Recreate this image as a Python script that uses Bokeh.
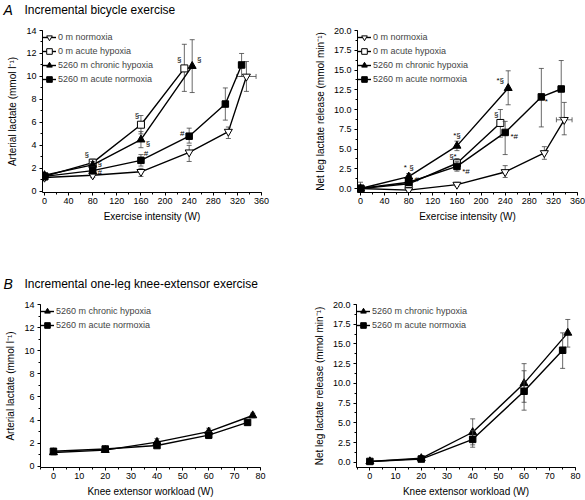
from bokeh.plotting import figure
from bokeh.models import (ColumnDataSource, Legend, LegendItem, Range1d,
                          SingleIntervalTicker, PrintfTickFormatter)
from bokeh.layouts import column, row
from bokeh.embed import file_html
from bokeh.resources import INLINE
from bokeh.core.properties import value
import math

FONT = "Liberation Sans"
EBC = "#444444"

SERIES = ["0 m normoxia", "0 m acute hypoxia", "5260 m chronic hypoxia", "5260 m acute normoxia"]
TITLE_A = ["A", "Incremental bicycle exercise"]
TITLE_B = ["B", "Incremental one-leg knee-extensor exercise"]

# ---------- Panel A left: arterial lactate (mmol l-1) vs exercise intensity (W)
a_art_norm_x = [0, 80, 160, 240, 305, 335]
a_art_norm_y = [1.2, 1.4, 1.7, 3.4, 5.2, 10.0]
a_art_norm_lo = [1.0, 1.2, 1.3, 2.6, 4.6, 8.7]
a_art_norm_hi = [1.5, 1.6, 2.0, 4.0, 5.6, 11.3]
a_art_norm_xerr = [0, 0, 0, 0, 0, 16]

a_art_ahyp_x = [0, 80, 160, 232]
a_art_ahyp_y = [1.3, 2.5, 5.8, 10.7]
a_art_ahyp_lo = [1.1, 2.2, 5.0, 8.7]
a_art_ahyp_hi = [1.5, 2.8, 6.6, 12.8]
a_art_ahyp_xerr = [0, 0, 0, 0]

a_art_chyp_x = [0, 80, 160, 245]
a_art_chyp_y = [1.4, 2.3, 4.5, 10.9]
a_art_chyp_lo = [1.2, 2.0, 3.8, 8.6]
a_art_chyp_hi = [1.6, 2.6, 5.2, 13.2]
a_art_chyp_xerr = [0, 0, 0, 0]

a_art_anorm_x = [0, 80, 160, 240, 300, 327]
a_art_anorm_y = [1.3, 1.8, 2.7, 4.8, 7.6, 11.0]
a_art_anorm_lo = [1.1, 1.5, 2.2, 4.2, 6.2, 10.0]
a_art_anorm_hi = [1.5, 2.1, 3.2, 5.5, 9.0, 12.0]
a_art_anorm_xerr = [0, 0, 0, 0, 0, 5]

# ---------- Panel A right: net leg lactate release (mmol min-1)
a_leg_norm_x = [0, 80, 160, 240, 305, 338]
a_leg_norm_y = [0.0, -0.2, 0.5, 2.1, 4.5, 8.7]
a_leg_norm_lo = [-0.5, -0.5, 0.3, 1.4, 3.7, 6.8]
a_leg_norm_hi = [0.8, 0.1, 0.8, 2.9, 5.3, 10.9]
a_leg_norm_xerr = [0, 0, 0, 0, 0, 13]

a_leg_ahyp_x = [0, 80, 160, 232]
a_leg_ahyp_y = [0.0, 0.6, 3.2, 8.3]
a_leg_ahyp_lo = [-0.3, 0.3, 2.6, 6.5]
a_leg_ahyp_hi = [0.3, 0.9, 3.8, 10.0]
a_leg_ahyp_xerr = [0, 0, 0, 0]

a_leg_chyp_x = [0, 80, 160, 245]
a_leg_chyp_y = [0.0, 1.5, 5.4, 12.7]
a_leg_chyp_lo = [-0.3, 1.1, 4.8, 10.6]
a_leg_chyp_hi = [0.3, 1.9, 6.0, 14.9]
a_leg_chyp_xerr = [0, 0, 0, 0]

a_leg_anorm_x = [0, 80, 160, 240, 300, 333]
a_leg_anorm_y = [0.0, 0.8, 2.8, 7.1, 11.6, 12.6]
a_leg_anorm_lo = [-0.3, 0.5, 2.2, 4.3, 7.8, 9.0]
a_leg_anorm_hi = [0.3, 1.1, 3.4, 8.5, 15.2, 16.2]
a_leg_anorm_xerr = [0, 0, 0, 0, 0, 5]

# ---------- Panel B left: arterial lactate vs knee extensor workload (W)
b_art_chyp_x = [0, 20, 40, 60, 77]
b_art_chyp_y = [1.2, 1.4, 2.1, 3.0, 4.4]
b_art_chyp_lo = [1.0, 1.2, 1.8, 2.7, 4.2]
b_art_chyp_hi = [1.4, 1.6, 2.4, 3.3, 4.6]
b_art_chyp_xerr = [0, 0, 0, 0, 0]

b_art_anorm_x = [0, 20, 40, 60, 75]
b_art_anorm_y = [1.3, 1.5, 1.8, 2.7, 3.8]
b_art_anorm_lo = [1.1, 1.3, 1.6, 2.4, 3.6]
b_art_anorm_hi = [1.5, 1.7, 2.0, 3.0, 4.0]
b_art_anorm_xerr = [0, 0, 0, 0, 0]

# ---------- Panel B right: net leg lactate release
b_leg_chyp_x = [0, 20, 40, 60, 77]
b_leg_chyp_y = [0.1, 0.5, 3.8, 10.0, 16.4]
b_leg_chyp_lo = [-0.1, 0.3, 2.2, 7.6, 14.6]
b_leg_chyp_hi = [0.3, 0.8, 5.5, 12.5, 18.1]
b_leg_chyp_xerr = [0, 0, 0, 0, 0]

b_leg_anorm_x = [0, 20, 40, 60, 75]
b_leg_anorm_y = [0.1, 0.4, 2.9, 9.0, 14.2]
b_leg_anorm_lo = [-0.1, 0.2, 1.9, 6.6, 11.9]
b_leg_anorm_hi = [0.3, 0.6, 4.0, 11.6, 16.4]
b_leg_anorm_xerr = [0, 0, 0, 0, 0]

# significance marks: (text, series, point index, x offset px, y offset px)
a_art_marks = [("§", 1, 1, -6, -8), ("§", 1, 2, -4, -9), ("§", 1, 3, -5, -9),
               ("§", 2, 3, 7, -7), ("§", 2, 2, 7, 4), ("§", 2, 1, 7, -1),
               ("#", 3, 2, 5, -7), ("#", 3, 3, -7, -3), ("#", 3, 1, 7, 2)]
a_leg_marks = [("*§", 2, 3, -8, -8), ("§", 1, 3, -4, -8), ("*", 3, 4, 5, 5),
               ("*§", 2, 2, 0, -10), ("§*", 1, 2, -4, -7), ("*#", 3, 2, 9, 5),
               ("*#", 3, 3, 9, 4), ("* §", 2, 1, 0, -9), ("#", 3, 1, 8, -3)]

STYLE = {
    "0 m normoxia": ("inverted_triangle", "white", 8),
    "0 m acute hypoxia": ("square", "white", 7),
    "5260 m chronic hypoxia": ("triangle", "black", 8),
    "5260 m acute normoxia": ("square", "black", 6.5),
}


def title_fig(height, letter, text, ymid):
    p = figure(width=585, height=height, x_range=Range1d(0, 585), y_range=Range1d(height, 0),
               output_backend="svg", toolbar_location=None,
               min_border_left=0, min_border_right=0, min_border_top=0, min_border_bottom=0)
    p.axis.visible = False
    p.grid.visible = False
    p.outline_line_color = None
    p.text(x=[3], y=[ymid], text=[letter], text_font=value(FONT), text_font_style="italic",
           text_font_size="14px", text_baseline="middle", text_color="black")
    p.text(x=[24], y=[ymid], text=[text], text_font=value(FONT),
           text_font_size="12px", text_baseline="middle", text_color="black")
    return p


def base_fig(width, height, xr, yr, bl, br, bt, bb, xint, yint, xlabel, ylabel, yfmt=None):
    p = figure(width=width, height=height, x_range=Range1d(*xr), y_range=Range1d(*yr),
               output_backend="svg", toolbar_location=None,
               min_border_left=bl, min_border_right=br, min_border_top=bt, min_border_bottom=bb)
    p.outline_line_color = None
    p.xgrid.visible = False
    p.ygrid.visible = False
    p.xaxis.ticker = SingleIntervalTicker(interval=xint, num_minor_ticks=2)
    p.yaxis.ticker = SingleIntervalTicker(interval=yint, num_minor_ticks=2)
    if yfmt:
        p.yaxis.formatter = PrintfTickFormatter(format=yfmt)
    p.xaxis.axis_label = xlabel
    p.yaxis.axis_label = ylabel
    for ax in (p.xaxis[0], p.yaxis[0]):
        ax.axis_line_color = "black"
        ax.major_tick_line_color = "black"
        ax.minor_tick_line_color = "black"
        ax.major_tick_out = 3
        ax.major_tick_in = 0
        ax.minor_tick_out = 2
        ax.minor_tick_in = 0
        ax.major_label_text_font = FONT
        ax.major_label_text_font_size = "9px"
        ax.major_label_text_color = "black"
        ax.axis_label_text_font = FONT
        ax.axis_label_text_font_size = "10px"
        ax.axis_label_text_font_style = "normal"
        ax.axis_label_text_color = "black"
        ax.major_label_standoff = 2
    p.xaxis[0].axis_label_standoff = 4
    p.yaxis[0].axis_label_standoff = 5
    p.yaxis[0].major_label_standoff = 3
    return p


def draw(p, name, x, y, lo, hi, xerr):
    marker, fill, size = STYLE[name]
    ln = p.line(x, y, line_color="black", line_width=1.4)
    p.segment(x0=x, y0=lo, x1=x, y1=hi, line_color=EBC, line_width=0.8)
    p.scatter(x=x + x, y=lo + hi, marker="dash", size=5, line_color=EBC, line_width=0.8)
    hx = [(xi, yi, e) for xi, yi, e in zip(x, y, xerr) if e > 0]
    if hx:
        hyy = [h[1] for h in hx]
        hl = [h[0] - h[2] for h in hx]
        hh = [h[0] + h[2] for h in hx]
        p.segment(x0=hl, y0=hyy, x1=hh, y1=hyy, line_color=EBC, line_width=0.8)
        p.scatter(x=hl + hh, y=hyy + hyy, marker="dash", angle=math.pi / 2, size=5,
                  line_color=EBC, line_width=0.8)
    mk = p.scatter(x, y, marker=marker, size=size, fill_color=fill, line_color="black", line_width=1)
    return ln, mk


def add_legend(p, names, handles):
    items = [LegendItem(label=n, renderers=list(h)) for n, h in zip(names, handles)]
    lg = Legend(items=items, location="top_left", label_text_font=FONT, label_text_font_size="9px",
                glyph_width=14, glyph_height=14, label_height=9, spacing=-4, padding=0, margin=0,
                label_standoff=2, border_line_color=None, background_fill_alpha=0)
    p.add_layout(lg)


def add_marks(p, marks, xs, ys):
    src = ColumnDataSource(dict(
        x=[xs[m[1]][m[2]] for m in marks], y=[ys[m[1]][m[2]] for m in marks],
        t=[m[0] for m in marks], dx=[m[3] for m in marks], dy=[m[4] for m in marks]))
    p.text(x="x", y="y", text="t", x_offset="dx", y_offset="dy", source=src,
           text_font=value(FONT), text_font_size="8px", text_align="center",
           text_baseline="middle", text_color="black")


ART_LABEL = "Arterial lactate (mmol l\u207b\u00b9)"
LEG_LABEL = "Net leg lactate release (mmol min\u207b\u00b9)"

ta = title_fig(20, TITLE_A[0], TITLE_A[1], 9)

# ---- top left
tl = base_fig(308, 246, (-3.3, 360), (-0.1, 14), 42, 47, 10, 74, 40, 2,
              "Exercise intensity (W)", ART_LABEL)
tl_x = [a_art_norm_x, a_art_ahyp_x, a_art_chyp_x, a_art_anorm_x]
tl_y = [a_art_norm_y, a_art_ahyp_y, a_art_chyp_y, a_art_anorm_y]
tl_lo = [a_art_norm_lo, a_art_ahyp_lo, a_art_chyp_lo, a_art_anorm_lo]
tl_hi = [a_art_norm_hi, a_art_ahyp_hi, a_art_chyp_hi, a_art_anorm_hi]
tl_xe = [a_art_norm_xerr, a_art_ahyp_xerr, a_art_chyp_xerr, a_art_anorm_xerr]
h = [draw(tl, n, *a) for n, a in zip(SERIES, zip(tl_x, tl_y, tl_lo, tl_hi, tl_xe))]
add_legend(tl, SERIES, h)
add_marks(tl, a_art_marks, tl_x, tl_y)

# ---- top right
tr = base_fig(277, 246, (-5, 360), (-0.5, 20), 49, 8, 10, 74, 40, 2.5,
              "Exercise intensity (W)", LEG_LABEL, "%.1f")
tr_x = [a_leg_norm_x, a_leg_ahyp_x, a_leg_chyp_x, a_leg_anorm_x]
tr_y = [a_leg_norm_y, a_leg_ahyp_y, a_leg_chyp_y, a_leg_anorm_y]
tr_lo = [a_leg_norm_lo, a_leg_ahyp_lo, a_leg_chyp_lo, a_leg_anorm_lo]
tr_hi = [a_leg_norm_hi, a_leg_ahyp_hi, a_leg_chyp_hi, a_leg_anorm_hi]
tr_xe = [a_leg_norm_xerr, a_leg_ahyp_xerr, a_leg_chyp_xerr, a_leg_anorm_xerr]
h = [draw(tr, n, *a) for n, a in zip(SERIES, zip(tr_x, tr_y, tr_lo, tr_hi, tr_xe))]
add_legend(tr, SERIES, h)
add_marks(tr, a_leg_marks, tr_x, tr_y)

tb = title_fig(24, TITLE_B[0], TITLE_B[1], 17)

B_SERIES = ["5260 m chronic hypoxia", "5260 m acute normoxia"]

# ---- bottom left
bl = base_fig(308, 210, (-5, 80), (-0.1, 14), 40, 48, 14, 33, 10, 2,
              "Knee extensor workload (W)", ART_LABEL)
h = [draw(bl, "5260 m chronic hypoxia", b_art_chyp_x, b_art_chyp_y, b_art_chyp_lo, b_art_chyp_hi, b_art_chyp_xerr),
     draw(bl, "5260 m acute normoxia", b_art_anorm_x, b_art_anorm_y, b_art_anorm_lo, b_art_anorm_hi, b_art_anorm_xerr)]
add_legend(bl, B_SERIES, h)

# ---- bottom right
br = base_fig(277, 210, (-5.2, 80), (-0.67, 20), 48, 10, 14, 33, 10, 2.5,
              "Knee extensor workload (W)", LEG_LABEL, "%.1f")
h = [draw(br, "5260 m chronic hypoxia", b_leg_chyp_x, b_leg_chyp_y, b_leg_chyp_lo, b_leg_chyp_hi, b_leg_chyp_xerr),
     draw(br, "5260 m acute normoxia", b_leg_anorm_x, b_leg_anorm_y, b_leg_anorm_lo, b_leg_anorm_hi, b_leg_anorm_xerr)]
add_legend(br, B_SERIES, h)

layout = column(ta, row(tl, tr), tb, row(bl, br))
open("out.html", "w").write(file_html(layout, INLINE))
